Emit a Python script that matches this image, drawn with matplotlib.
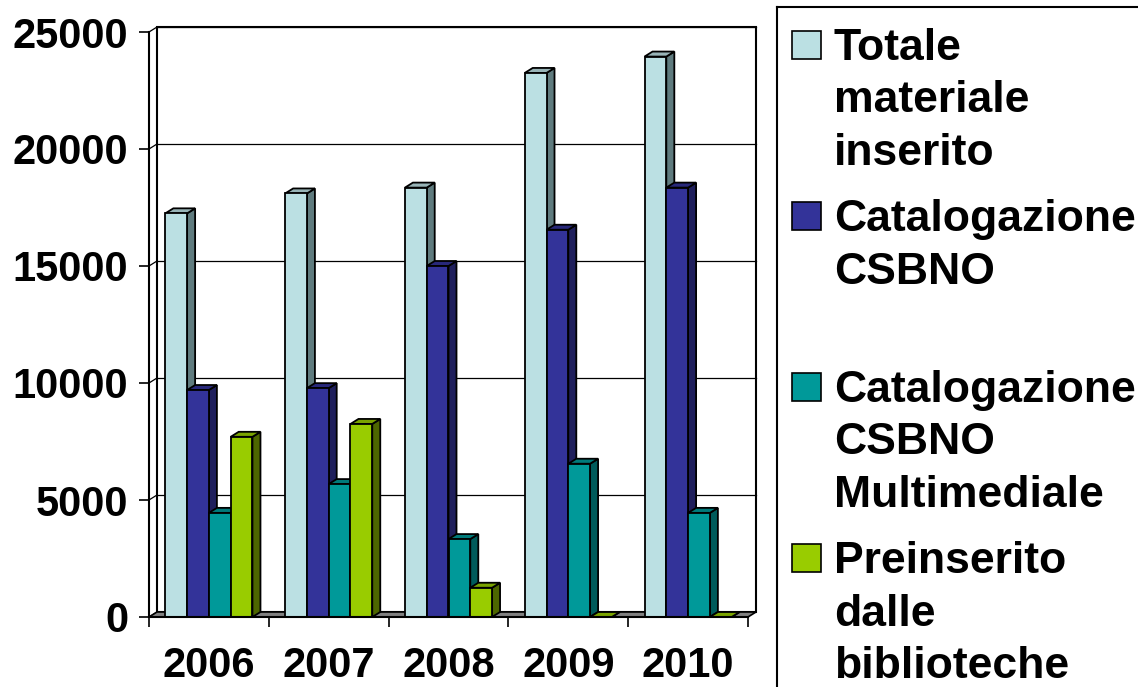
import matplotlib
matplotlib.use("Agg")
import matplotlib.pyplot as plt
from matplotlib.patches import Polygon, Rectangle
import numpy as np

plt.rcParams['font.family'] = ['Liberation Sans', 'DejaVu Sans']
plt.rcParams['font.weight'] = 'bold'

years = ["2006", "2007", "2008", "2009", "2010"]
series_names = ["Totale\nmateriale\ninserito",
                "Catalogazione\nCSBNO\n",
                "Catalogazione\nCSBNO\nMultimediale",
                "Preinserito\ndalle\nbiblioteche"]
totale = [17250, 18100, 18350, 23250, 23950]
csbno = [9700, 9780, 15000, 16550, 18350]
multimediale = [4450, 5680, 3330, 6550, 4450]
preinserito = [7700, 8250, 1250, 0, 0]
values = [totale, csbno, multimediale, preinserito]
yticks = [0, 5000, 10000, 15000, 20000, 25000]

front_cols = ["#BBE0E3", "#333399", "#009999", "#99CC00"]
side_cols = ["#5F7B7E", "#1F1F5C", "#005B5B", "#4D6600"]
top_cols = ["#98B4B7", "#28287A", "#007A7A", "#7AA300"]

W, H = 1138, 687
fig = plt.figure(figsize=(W / 100, H / 100), dpi=100)

# front plane of the plot in pixels
x0, x1, y0, y1 = 149, 748, 617, 32
ax = fig.add_axes([x0 / W, 1 - y0 / H, (x1 - x0) / W, (y0 - y1) / H])
ax.set_xlim(0, len(years))
ax.set_ylim(0, 25000)
for s in ax.spines.values():
    s.set_visible(False)
ax.patch.set_visible(False)

# depth offset of the 3d look, in data units
dx = 8 / (x1 - x0) * len(years)
dy = 5 / (y0 - y1) * 25000
n = len(values)
gap = 1.5
bw = 1 / (n + gap)

# back wall + gridlines
ax.add_patch(Rectangle((dx, dy), len(years), 25000, facecolor="white",
                       edgecolor="black", lw=1.5, zorder=1, clip_on=False))
for v in yticks[1:]:
    ax.plot([dx, len(years) + dx], [v + dy, v + dy], color="black", lw=0.9,
            zorder=1, clip_on=False)
for v in yticks:
    ax.plot([0, dx], [v, v + dy], color="black", lw=0.9, zorder=1, clip_on=False)
ax.plot([dx, dx], [dy, 25000 + dy], color="black", lw=1.2, zorder=1, clip_on=False)
ax.plot([0, 0], [0, 25000], color="black", lw=1.5, zorder=2, clip_on=False)

# floor
ax.add_patch(Polygon([(0, 0), (len(years), 0), (len(years) + dx, dy), (dx, dy)],
                     closed=True, facecolor="#808080", edgecolor="black", lw=1.2,
                     zorder=2, clip_on=False))

z = 3
for c in range(len(years)):
    for k in range(n):
        h = values[k][c]
        left = c + 0.75 * bw + k * bw
        right = left + bw
        side = Polygon([(right, 0), (right + dx, dy), (right + dx, h + dy), (right, h)],
                       closed=True, facecolor=side_cols[k], edgecolor="black", lw=1.3,
                       zorder=z, clip_on=False)
        top = Polygon([(left, h), (right, h), (right + dx, h + dy), (left + dx, h + dy)],
                      closed=True, facecolor=top_cols[k], edgecolor="black", lw=1.3,
                      zorder=z, clip_on=False)
        ax.add_patch(side)
        ax.add_patch(top)
        ax.bar(left, h, width=bw, align="edge", color=front_cols[k],
               edgecolor="black", lw=1.3, zorder=z + 0.5)
        z += 1

ax.plot([0, len(years)], [0, 0], color="black", lw=1.5, zorder=z, clip_on=False)

ax.set_yticks(yticks)
ax.set_yticklabels([str(v) for v in yticks], fontsize=30, fontweight="bold")
ax.tick_params(axis="y", length=7, width=1.2, pad=8, direction="out")
ax.set_xticks(np.arange(len(years) + 1))
ax.set_xticklabels([""] * (len(years) + 1))
ax.set_xticks(np.arange(len(years)) + 0.5, minor=True)
ax.set_xticklabels(years, minor=True, fontsize=30, fontweight="bold")
ax.tick_params(axis="x", which="major", length=7, width=1.2, direction="out")
ax.tick_params(axis="x", which="minor", length=0, pad=21)

# legend box (runs off the right and bottom edges)
fig.add_artist(plt.Line2D([777 / W, 777 / W], [1 - 7 / H, 0], color="black", lw=1.5))
fig.add_artist(plt.Line2D([777 / W, 1], [1 - 7 / H, 1 - 7 / H], color="black", lw=1.5))
for i, name in enumerate(series_names):
    top_px = 31 + 171 * i
    fig.add_artist(Rectangle((792 / W, 1 - (top_px + 28) / H), 29 / W, 28 / H,
                             facecolor=front_cols[i], edgecolor="black", lw=1.2,
                             transform=fig.transFigure))
    for j, line in enumerate(name.split("\n")):
        if not line:
            continue
        base = top_px + 29 + 52.5 * j
        fig.text(834 / W, 1 - base / H, line, fontsize=32, fontweight="bold",
                 va="baseline", ha="left")

fig.savefig("out.png", dpi=100)
